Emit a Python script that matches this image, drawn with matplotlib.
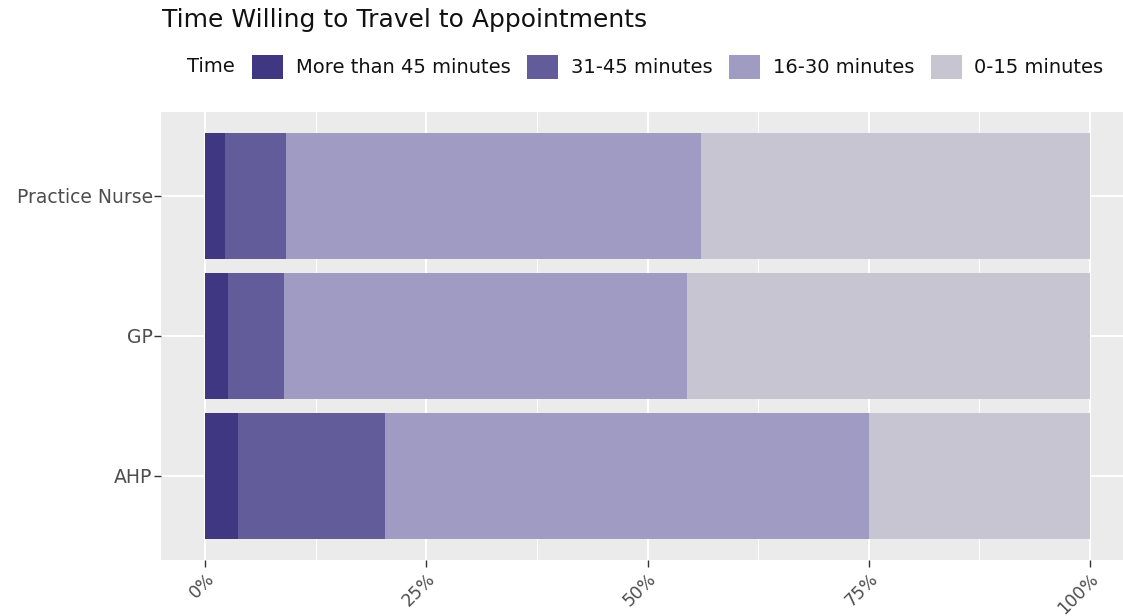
import matplotlib
matplotlib.use("Agg")
import matplotlib.pyplot as plt
from matplotlib.patches import Patch

# data (percent of respondents), bottom-to-top order
roles = ["AHP", "GP", "Practice Nurse"]
categories = ["More than 45 minutes", "31-45 minutes", "16-30 minutes", "0-15 minutes"]
more_45 = [3.7, 2.6, 2.2]
m31_45 = [16.6, 6.3, 6.9]
m16_30 = [54.7, 45.6, 46.9]
m0_15 = [25.0, 45.5, 44.0]
colours = ["#3f3782", "#635c9a", "#a09bc3", "#c8c5d2"]

W, H = 1123, 616
fig = plt.figure(figsize=(W / 100, H / 100), dpi=100)
ax = fig.add_axes([161 / W, 1 - 560 / H, (1134 - 161) / W, (560 - 112) / H])
ax.set_facecolor("#ebebeb")

series = [more_45, m31_45, m16_30, m0_15]
ypos = list(range(1, len(roles) + 1))
left = [0.0] * len(roles)
for vals, col in zip(series, colours):
    ax.barh(ypos, vals, left=left, height=0.9, color=col, zorder=3)
    left = [a + b for a, b in zip(left, vals)]

ax.set_xlim(-5, 105)
ax.set_ylim(0.4, 3.6)
ax.set_xticks([0, 25, 50, 75, 100])
ax.set_xticks([12.5, 37.5, 62.5, 87.5], minor=True)
ax.set_xticklabels(["0%", "25%", "50%", "75%", "100%"], rotation=45,
                   ha="right", va="top", rotation_mode="anchor")
ax.set_yticks(ypos)
ax.set_yticklabels(roles)
ax.grid(which="major", color="white", linewidth=1.4, zorder=0)
ax.grid(which="minor", axis="x", color="white", linewidth=0.7, zorder=0)
ax.set_axisbelow(True)
for s in ax.spines.values():
    s.set_visible(False)
ax.tick_params(axis="both", which="major", colors="#333333", length=5, width=1,
               labelcolor="#4d4d4d", labelsize=13.5)
ax.tick_params(axis="x", pad=2, labelsize=12.5)
ax.tick_params(axis="y", pad=1)
ax.tick_params(which="minor", length=0)

fig.text(162 / W, 1 - 20 / H, "Time Willing to Travel to Appointments",
         fontsize=18, va="center", ha="left", color="#111111")
fig.text(187 / W, 1 - 67 / H, "Time", fontsize=14, va="center", ha="left",
         color="#111111")
handles = [Patch(facecolor=c, edgecolor="none", label=l) for c, l in zip(colours, categories)]
leg = fig.legend(handles=handles, loc="center left", bbox_to_anchor=(252 / W, 1 - 67 / H),
                 ncol=4, frameon=False, fontsize=14, handlelength=1.6, handleheight=1.55,
                 handletextpad=0.65, columnspacing=0.85, borderpad=0, borderaxespad=0)
for t in leg.get_texts():
    t.set_color("#111111")

fig.savefig("out.png", dpi=100)
